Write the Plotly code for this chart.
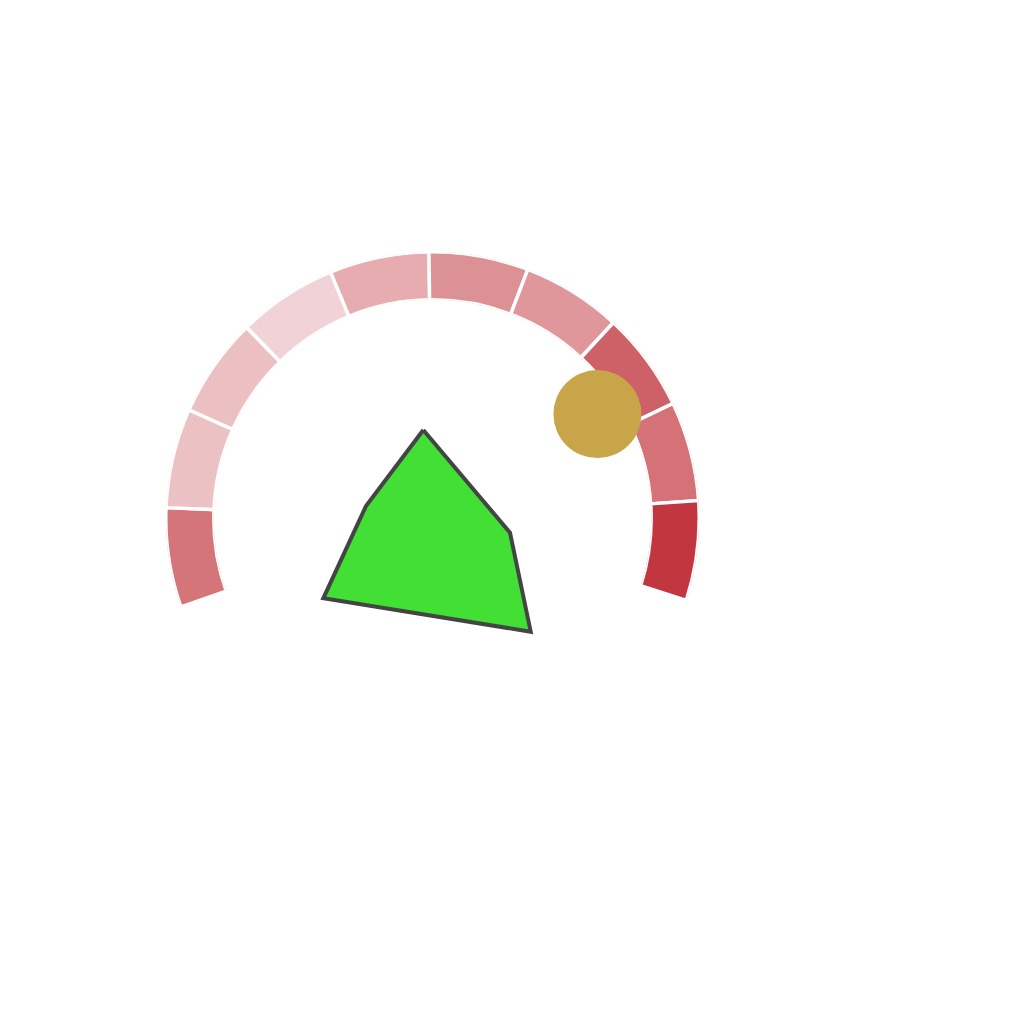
import plotly.graph_objects as go

# gauge segments (degrees, counterclockwise from east)
seg_theta = [188.5, 166.8, 145.1, 123.3, 101.6, 79.9, 58.2, 36.4, 14.7, -7.0]
seg_width = [21.73] * 10
seg_r = [1] * 10
seg_colors = ['#d4757a', '#ebc1c3', '#ecbfc2', '#f1d2d6', '#e6acaf',
              '#dc9195', '#e0979b', '#ce6067', '#d47278', '#c2373f']

# gold dot (polar, relative to gauge centre)
dot_r = [0.732]
dot_theta = [32.35]

# green polygon (pixel-like units)
poly_x = [423.3, 510, 530.7, 323.3, 366, 423.3]
poly_y = [430, 532.7, 631.7, 598.3, 506, 430]

fig = go.Figure()

fig.add_trace(go.Scatter(
    x=poly_x, y=poly_y,
    mode='lines', fill='toself',
    fillcolor='#42e034',
    line=dict(color='#444444', width=4),
    hoverinfo='skip'
))

fig.add_trace(go.Barpolar(
    r=seg_r, theta=seg_theta, width=seg_width, base=0,
    marker=dict(color=seg_colors, line=dict(color='white', width=3.5)),
    subplot='polar'
))

fig.add_trace(go.Scatterpolar(
    r=dot_r, theta=dot_theta, mode='markers',
    marker=dict(size=88, color='#c9a54a'),
    subplot='polar2'
))

hidden_radial = dict(range=[0, 1], visible=False, showgrid=False,
                     showline=False, showticklabels=False, ticks='')
hidden_angular = dict(visible=False, showgrid=False, showline=False,
                      showticklabels=False, ticks='',
                      direction='counterclockwise', rotation=0)
dom = dict(x=[0.1541, 0.6750], y=[0.2410, 0.7619])

fig.update_layout(
    width=1024, height=1024,
    margin=dict(l=0, r=0, t=0, b=0),
    paper_bgcolor='white', plot_bgcolor='rgba(0,0,0,0)',
    showlegend=False,
    xaxis=dict(range=[8, 1032], visible=False, domain=[0, 1]),
    yaxis=dict(range=[1032, 8], visible=False, domain=[0, 1]),
    polar=dict(domain=dom, hole=0.82, bgcolor='rgba(0,0,0,0)',
               radialaxis=hidden_radial, angularaxis=hidden_angular),
    polar2=dict(domain=dom, hole=0, bgcolor='rgba(0,0,0,0)',
                radialaxis=hidden_radial, angularaxis=hidden_angular),
)

fig.write_html("out.html")
